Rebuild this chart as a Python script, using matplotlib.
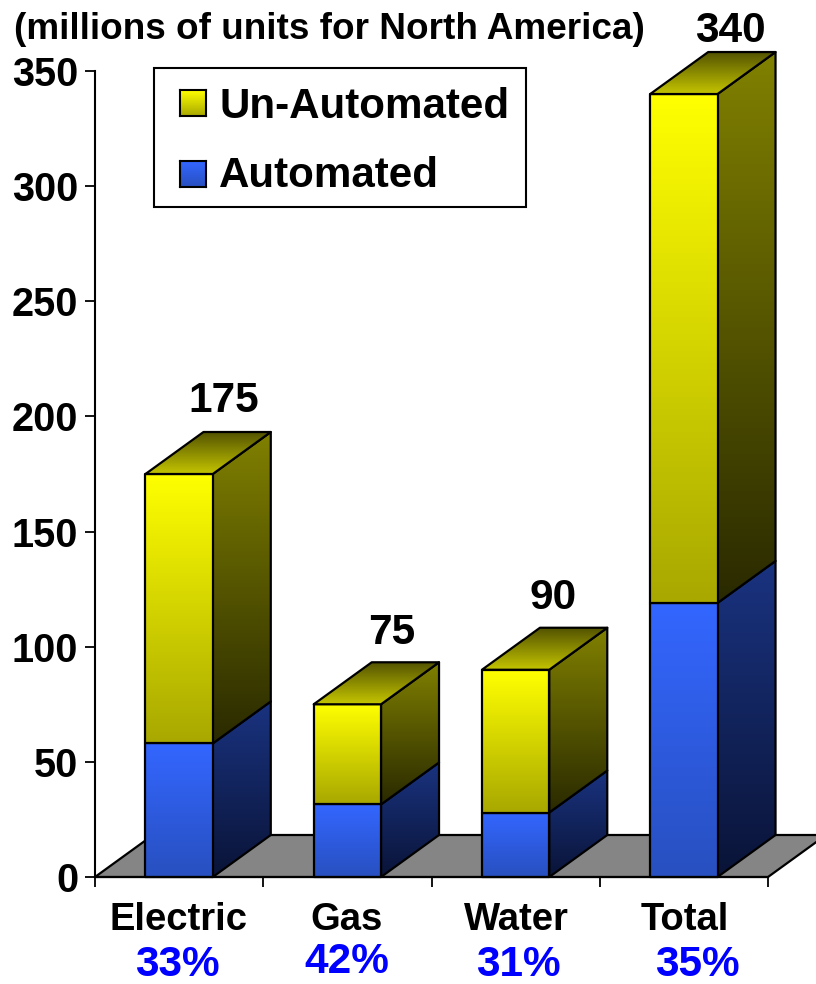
import numpy as np
import matplotlib
matplotlib.use("Agg")
import matplotlib.pyplot as plt
from matplotlib.patches import Polygon, Rectangle

plt.rcParams['font.family'] = ['Liberation Sans', 'DejaVu Sans']
plt.rcParams['font.weight'] = 'bold'

categories = ['Electric', 'Gas', 'Water', 'Total']
automated = [58, 31.5, 28, 119]
un_automated = [117, 43.5, 62, 221]
totals = [175, 75, 90, 340]
shares = ['33%', '42%', '31%', '35%']
y_ticks = [0, 50, 100, 150, 200, 250, 300, 350]

W, H = 816, 984
X0, CAT_PX = 95, 168.25
Y0, UNIT_PX = 877, 806 / 350
BAR_W = 0.4
DX, DY = 58 / CAT_PX, 42 / UNIT_PX

YELLOW_FRONT = ((255, 255, 0), (168, 168, 0))
YELLOW_SIDE = ((128, 128, 0), (42, 42, 0))
YELLOW_TOP = ((196, 196, 0), (84, 84, 0))
BLUE_FRONT = ((51, 102, 255), (40, 80, 192))
BLUE_SIDE = ((26, 51, 128), (10, 20, 56))


def ramp(colors):
    c = np.array(colors) / 255.0
    return np.linspace(c[0], c[1], 64).reshape(64, 1, 3)


def shaded(ax, pts, colors, z):
    # polygon filled with a vertical gradient, top colour first
    pts = np.array(pts)
    poly = Polygon(pts, closed=True, fc='none', ec='black', lw=1.6,
                   joinstyle='round', zorder=z + 0.1)
    ax.add_patch(poly)
    im = ax.imshow(ramp(colors), aspect='auto', origin='upper', zorder=z,
                   interpolation='bilinear',
                   extent=[pts[:, 0].min(), pts[:, 0].max(),
                           pts[:, 1].min(), pts[:, 1].max()])
    im.set_clip_path(poly)


def segment(ax, x, y0, y1, front, side, z):
    r = x + BAR_W
    shaded(ax, [(r, y0), (r + DX, y0 + DY), (r + DX, y1 + DY), (r, y1)], side, z)
    shaded(ax, [(x, y0), (r, y0), (r, y1), (x, y1)], front, z + 0.2)


fig = plt.figure(figsize=(W / 100, H / 100), dpi=100)
ax = fig.add_axes([0, 0, 1, 1])

# floor of the 3d box
ax.add_patch(Polygon([(0, 0), (4, 0), (4 + DX, DY), (DX, DY)], closed=True,
                     fc='#858585', ec='black', lw=1.6, zorder=1))

for i in range(4):
    x = i + 0.5 - BAR_W / 2
    z = 2 + i
    a, u = automated[i], un_automated[i]
    segment(ax, x, 0, a, BLUE_FRONT, BLUE_SIDE, z)
    segment(ax, x, a, a + u, YELLOW_FRONT, YELLOW_SIDE, z + 0.4)
    top = a + u
    shaded(ax, [(x, top), (x + BAR_W, top), (x + BAR_W + DX, top + DY), (x + DX, top + DY)],
           YELLOW_TOP[::-1], z + 0.7)

ax.set_xlim(-X0 / CAT_PX, (W - X0) / CAT_PX)
ax.set_ylim((Y0 - H) / UNIT_PX, Y0 / UNIT_PX)
ax.patch.set_visible(False)

for s in ['top', 'right']:
    ax.spines[s].set_visible(False)
ax.spines['left'].set_position(('data', 0))
ax.spines['bottom'].set_position(('data', 0))
ax.spines['left'].set_bounds(0, 350)
ax.spines['bottom'].set_bounds(0, 4)
ax.spines['left'].set_linewidth(1.5)
ax.spines['bottom'].set_linewidth(1.5)
ax.spines['left'].set_zorder(10)
ax.spines['bottom'].set_zorder(10)

ax.set_yticks(y_ticks)
ax.set_xticks(range(5))
ax.set_xticklabels([])
ax.tick_params(axis='both', direction='out', length=7, width=1.3)
ax.tick_params(axis='y', labelsize=28.5, pad=5)

# category names and automated share under each group
name_x = [178, 347, 516, 685]
share_x = [177, 347, 518, 697]
share_y = [965, 962, 965, 965]
for i in range(4):
    ax.text(name_x[i] / W, 1 - 930 / H, categories[i], transform=ax.transAxes,
            ha='center', va='baseline', fontsize=27.5)
    ax.text(share_x[i] / W, 1 - share_y[i] / H, shares[i], transform=ax.transAxes,
            ha='center', va='center', fontsize=30.5, color='#0000ff')

# totals above the bars
total_x = [224, 392, 553, 730]
total_y = [412, 644, 609, 42]
for i in range(4):
    ax.text(total_x[i] / W, 1 - total_y[i] / H, str(totals[i]), transform=ax.transAxes,
            ha='center', va='baseline', fontsize=30.5)

ax.text(14 / W, 1 - 39 / H, '(millions of units for North America)',
        transform=ax.transAxes, ha='left', va='baseline', fontsize=26.6)

# legend box
ax.add_patch(Rectangle((154 / W, 1 - 207 / H), 372 / W, 139 / H, transform=ax.transAxes,
                       fc='white', ec='black', lw=1.5, zorder=20))
ax.text(219 / W, 1 - 118 / H, 'Un-Automated', transform=ax.transAxes,
        ha='left', va='baseline', fontsize=30.3, zorder=21)
ax.text(219 / W, 1 - 187 / H, 'Automated', transform=ax.transAxes,
        ha='left', va='baseline', fontsize=30.3, zorder=21)
for py, colors in [(90, YELLOW_FRONT), (161, BLUE_FRONT)]:
    sw = fig.add_axes([180 / W, 1 - (py + 26) / H, 26 / W, 26 / H], zorder=5)
    sw.imshow(ramp(colors), aspect='auto', interpolation='bilinear')
    sw.set_xticks([])
    sw.set_yticks([])
    for s in sw.spines.values():
        s.set_linewidth(1.5)

fig.savefig('out.png', dpi=100)
